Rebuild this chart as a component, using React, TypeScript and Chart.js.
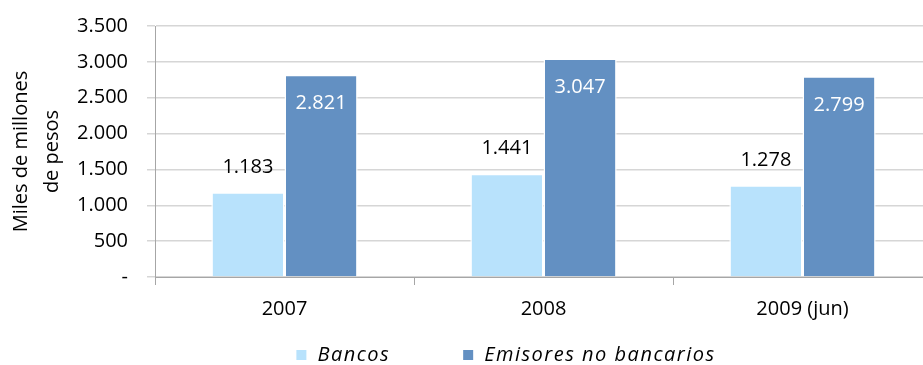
import React, { useEffect, useRef } from "react";
import { Chart, registerables } from "chart.js";

Chart.register(...registerables);

const categories = ["2007", "2008", "2009 (jun)"];
const bancos = [1183, 1441, 1278];
const emisores = [2821, 3047, 2799];
const seriesNames = ["Bancos", "Emisores no bancarios"];
const seriesColors = ["#B8E2FC", "#6390C2"];
const yTitle = ["Miles de millones", "de pesos"];
const yMin = 0;
const yMax = 3500;
const yStep = 500;

const FONT = "'Open Sans', 'Noto Sans', sans-serif";

const fmt = (v: number) =>
  v === 0 ? "-" : String(Math.round(v)).replace(/\B(?=(\d{3})+(?!\d))/g, ".");

const dataLabels = {
  id: "dataLabels",
  afterDatasetsDraw(chart: any) {
    const ctx = chart.ctx;
    ctx.save();
    ctx.font = `20px ${FONT}`;
    ctx.textAlign = "center";
    ctx.textBaseline = "middle";
    chart.data.datasets.forEach((ds: any, di: number) => {
      const meta = chart.getDatasetMeta(di);
      meta.data.forEach((bar: any, i: number) => {
        const v = ds.data[i];
        if (di === 0) {
          ctx.fillStyle = "#000";
          ctx.fillText(fmt(v), bar.x, bar.y - 25);
        } else {
          ctx.fillStyle = "#fff";
          ctx.fillText(fmt(v), bar.x, bar.y + 29);
        }
      });
    });
    ctx.restore();
  },
};

const customLegend = {
  id: "customLegend",
  afterDraw(chart: any) {
    const ctx = chart.ctx;
    ctx.save();
    ctx.font = `italic 20px ${FONT}`;
    (ctx as any).letterSpacing = "1.5px";
    ctx.textBaseline = "middle";
    ctx.textAlign = "left";
    const box = 10;
    const gapText = 11;
    const gapItems = 73;
    const widths = chart.data.datasets.map((d: any) => ctx.measureText(d.label).width);
    const total =
      widths.reduce((a: number, w: number) => a + box + gapText + w, 0) +
      gapItems * (widths.length - 1);
    let x = 506 - total / 2;
    const y = 355;
    chart.data.datasets.forEach((d: any, i: number) => {
      ctx.fillStyle = d.backgroundColor;
      ctx.fillRect(x, y - box / 2, box, box);
      ctx.fillStyle = "#000";
      ctx.fillText(d.label, x + box + gapText, y);
      x += box + gapText + widths[i] + gapItems;
    });
    ctx.restore();
  },
};

export default function App() {
  const ref = useRef<HTMLCanvasElement | null>(null);

  useEffect(() => {
    if (!ref.current) return;
    const chart = new Chart(ref.current, {
      type: "bar",
      data: {
        labels: categories,
        datasets: [
          {
            label: seriesNames[0],
            data: bancos,
            backgroundColor: seriesColors[0],
            borderColor: "#ffffff",
            borderWidth: 1.5,
          },
          {
            label: seriesNames[1],
            data: emisores,
            backgroundColor: seriesColors[1],
            borderColor: "#ffffff",
            borderWidth: 1.5,
          },
        ],
      },
      options: {
        animation: false,
        responsive: true,
        maintainAspectRatio: false,
        datasets: { bar: { categoryPercentage: 0.565, barPercentage: 1 } },
        layout: { padding: { left: 0, top: 26, right: 3, bottom: 40 } },
        plugins: {
          legend: { display: false },
          tooltip: { enabled: false },
        },
        scales: {
          x: {
            afterFit(scale: any) {
              scale.height = 48;
            },
            grid: {
              display: true,
              drawOnChartArea: false,
              drawTicks: true,
              tickLength: 8,
              color: "#a6a6a6",
            },
            border: { display: true, color: "#a6a6a6", width: 1 },
            ticks: {
              color: "#000",
              padding: 12,
              font: { family: FONT, size: 20 },
              maxRotation: 0,
            },
          },
          y: {
            min: yMin,
            max: yMax,
            afterFit(scale: any) {
              scale.width = 155;
              scale.paddingTop = 0;
              scale.paddingBottom = 0;
            },
            grid: {
              color: "#d6d6d6",
              lineWidth: 1.5,
              tickLength: 8,
            },
            border: { display: true, color: "#a6a6a6", width: 1 },
            ticks: {
              stepSize: yStep,
              color: "#000",
              padding: 19,
              font: { family: FONT, size: 20 },
              callback: (v: any) => fmt(Number(v)),
            },
            title: {
              display: true,
              text: yTitle,
              color: "#000",
              font: { family: FONT, size: 20, lineHeight: 1.55 },
              padding: { top: 6, bottom: 0 },
            },
          },
        },
      },
      plugins: [dataLabels, customLegend],
    });
    return () => chart.destroy();
  }, []);

  return (
    <div
      style={{
        position: "fixed",
        left: 0,
        top: 0,
        width: 923,
        height: 365,
        overflow: "hidden",
        background: "#fff",
      }}
    >
      <div style={{ position: "relative", width: 935, height: 365 }}>
        <canvas ref={ref} />
      </div>
    </div>
  );
}
